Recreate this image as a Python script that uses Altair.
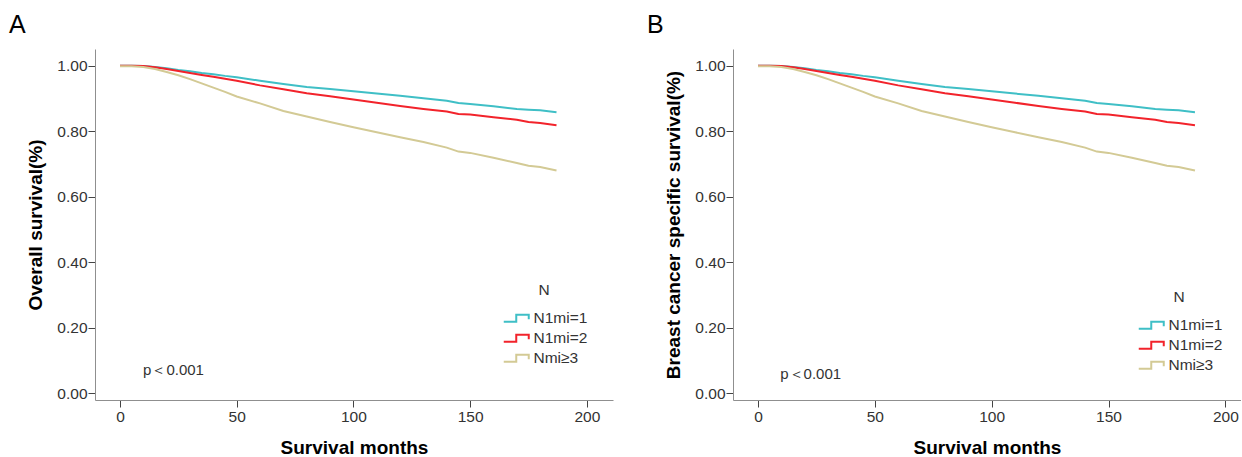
import altair as alt
import pandas as pd

# Kaplan-Meier survival by number of micrometastatic nodes
groups = ["N1mi=1", "N1mi=2", "Nmi≥3"]
colors = ["#3fbfc6", "#f2232b", "#d3ca95"]

months = [0, 5, 10, 15, 20, 25, 30, 35, 40, 45, 50, 60, 70, 80, 90, 100,
          110, 120, 130, 140, 145, 150, 160, 170, 175, 180, 187]

# Overall survival
os_n1 = [1.000, 1.000, 0.999, 0.996, 0.992, 0.987, 0.983, 0.978, 0.974, 0.969,
         0.965, 0.954, 0.944, 0.935, 0.929, 0.922, 0.915, 0.908, 0.901, 0.893,
         0.886, 0.883, 0.876, 0.868, 0.866, 0.864, 0.858]
os_n2 = [1.000, 1.000, 0.999, 0.995, 0.990, 0.984, 0.978, 0.972, 0.966, 0.960,
         0.954, 0.940, 0.928, 0.916, 0.907, 0.897, 0.887, 0.877, 0.868, 0.860,
         0.853, 0.851, 0.843, 0.835, 0.828, 0.825, 0.818]
os_n3 = [0.998, 0.998, 0.996, 0.990, 0.981, 0.971, 0.959, 0.946, 0.933, 0.920,
         0.906, 0.885, 0.862, 0.845, 0.828, 0.812, 0.797, 0.782, 0.767, 0.750,
         0.738, 0.734, 0.719, 0.703, 0.695, 0.691, 0.680]

# Breast cancer specific survival
bcss_n1 = [1.000, 1.000, 0.999, 0.996, 0.992, 0.987, 0.983, 0.978, 0.974, 0.969,
           0.965, 0.954, 0.944, 0.935, 0.929, 0.922, 0.915, 0.908, 0.901, 0.893,
           0.886, 0.883, 0.876, 0.868, 0.866, 0.864, 0.858]
bcss_n2 = [1.000, 1.000, 0.999, 0.995, 0.990, 0.984, 0.978, 0.972, 0.966, 0.960,
           0.954, 0.940, 0.928, 0.916, 0.907, 0.897, 0.887, 0.877, 0.868, 0.860,
           0.853, 0.851, 0.843, 0.835, 0.828, 0.825, 0.818]
bcss_n3 = [0.998, 0.998, 0.996, 0.990, 0.981, 0.971, 0.959, 0.946, 0.933, 0.920,
           0.906, 0.885, 0.862, 0.845, 0.828, 0.812, 0.797, 0.782, 0.767, 0.750,
           0.738, 0.734, 0.719, 0.703, 0.695, 0.691, 0.680]

x_ticks = [0, 50, 100, 150, 200]
y_ticks = [0.0, 0.2, 0.4, 0.6, 0.8, 1.0]

FONT = "Liberation Sans"
TXT = "#333333"


def long_table(series):
    rows = []
    for g, vals in zip(groups, series):
        for m, s in zip(months, vals):
            rows.append({"month": m, "surv": s, "group": g})
    return pd.DataFrame(rows)


def panel(series, letter, ytitle, x_max, width, p_pos, legend_y, legend_x):
    df = long_table(series)
    x = alt.X(
        "month:Q",
        scale=alt.Scale(domain=[-10.7, x_max], nice=False, zero=False),
        axis=alt.Axis(
            values=x_ticks, title="Survival months", grid=False,
            titleFontSize=19, titleFontWeight="bold", titleFont=FONT,
            titleColor="#000000", titleY=53, titleBaseline="alphabetic",
            labelFontSize=15.5, labelFont=FONT, labelColor=TXT,
            labelPadding=2, tickSize=7, tickColor="#444444",
            domainColor="#8f8f8f", labelFlush=False,
        ),
    )
    y = alt.Y(
        "surv:Q",
        scale=alt.Scale(domain=[-0.02, 1.051], nice=False, zero=False),
        axis=alt.Axis(
            values=y_ticks, format=".2f", title=ytitle, grid=False,
            titleFontSize=19, titleFontWeight="bold", titleFont=FONT,
            titleColor="#000000", titleX=-60, titleBaseline="middle",
            labelFontSize=15.5, labelFont=FONT, labelColor=TXT,
            labelPadding=1, tickSize=7, tickColor="#444444",
            domainColor="#8f8f8f", labelFlush=False,
        ),
    )
    curves = alt.Chart(df).mark_line(strokeWidth=2).encode(
        x=x,
        y=y,
        color=alt.Color(
            "group:N",
            scale=alt.Scale(domain=groups, range=colors),
            legend=alt.Legend(
                title="N", orient="none", legendX=legend_x, legendY=legend_y,
                padding=0, titleFont=FONT, titleFontSize=15.5,
                titleFontWeight="normal", titleColor=TXT,
                titleAnchor="middle", titlePadding=12,
                labelFont=FONT, labelFontSize=15.5, labelColor=TXT,
                labelOffset=17, rowPadding=3,
                symbolType="M-1,0.7H1.5V-0.7H4V0.2", symbolSize=100,
                symbolStrokeWidth=2, symbolFillColor="transparent",
            ),
        ),
        detail="group:N",
    )
    p_df = pd.DataFrame({"month": [p_pos[0]], "surv": [p_pos[1]],
                         "label": ["p＜0.001"]})
    p_text = alt.Chart(p_df).mark_text(
        align="left", baseline="middle", fontSize=15, font=FONT, color=TXT
    ).encode(x="month:Q", y="surv:Q", text="label:N")
    tag = alt.Chart(pd.DataFrame({"label": [letter]})).mark_text(
        align="left", baseline="alphabetic", fontSize=25, font=FONT,
        color="#000000"
    ).encode(text="label:N", x=alt.value(-86), y=alt.value(-16))
    return alt.layer(curves, p_text, tag).properties(width=width, height=351)


chart_a = panel([os_n1, os_n2, os_n3], "A", "Overall survival(%)",
                211.2, 518, (9.9, 0.073), 234, 406)
chart_b = panel([bcss_n1, bcss_n2, bcss_n3], "B",
                "Breast cancer specific survival(%)",
                206.7, 508, (9.5, 0.059), 241, 403)

chart = alt.hconcat(chart_a, chart_b, spacing=34).resolve_scale(
    color="independent", x="independent", y="independent"
).properties(
    padding={"left": 9, "top": 13, "right": 0, "bottom": 0},
    background="white",
).configure_view(stroke=None)

chart.save("out.html", embed_options={"renderer": "svg", "actions": False})
